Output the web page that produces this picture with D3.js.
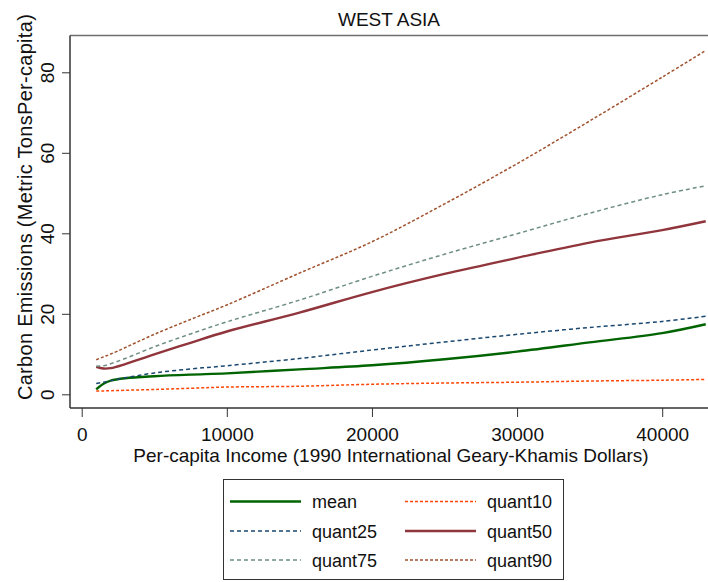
<!DOCTYPE html>
<html>
<head>
<meta charset="utf-8">
<script src="https://cdn.jsdelivr.net/npm/d3@7"></script>
<style>
  html, body { margin: 0; padding: 0; background: #fff; }
  svg { display: block; font-family: "Liberation Sans", Arial, Helvetica, sans-serif; }
</style>
</head>
<body>
<svg id="chart" width="708" height="582"></svg>
<script>
// Per-capita income grid (1990 GK dollars)
const income = [1000, 1500, 2000, 3000, 5000, 7500, 10000, 15000, 20000, 25000, 30000, 35000, 40000, 43000];

// Fitted carbon emissions (metric tons per capita) along the income grid
const meanVals    = [1.2, 2.6, 3.4, 4.0, 4.5, 4.9, 5.2, 6.2, 7.2, 8.7, 10.6, 12.9, 15.2, 17.4];
const quant10Vals = [0.8, 0.85, 0.9, 1.0, 1.2, 1.5, 1.8, 2.0, 2.5, 2.8, 3.0, 3.3, 3.5, 3.7];
const quant25Vals = [2.7, 3.0, 3.4, 4.1, 5.3, 6.3, 7.1, 8.9, 11.0, 13.0, 14.9, 16.6, 18.1, 19.4];
const quant50Vals = [6.8, 6.4, 6.5, 7.5, 9.9, 12.8, 15.6, 20.3, 25.4, 29.9, 33.9, 37.7, 40.8, 43.0];
const quant75Vals = [7.0, 7.1, 7.6, 8.9, 11.8, 15.0, 18.0, 23.4, 29.3, 34.8, 39.9, 45.0, 49.6, 51.8];
const quant90Vals = [8.6, 9.3, 10.0, 11.6, 14.9, 18.6, 22.2, 30.1, 37.9, 47.3, 57.3, 67.9, 78.8, 85.4];

const xTicks = [0, 10000, 20000, 30000, 40000];
const yTicks = [0, 20, 40, 60, 80];

const seriesNames = ["mean", "quant10", "quant25", "quant50", "quant75", "quant90"];
const seriesValues = [meanVals, quant10Vals, quant25Vals, quant50Vals, quant75Vals, quant90Vals];

const styles = {
  mean:    { color: "#006400", width: 2.4, dash: null },
  quant10: { color: "#ff4500", width: 1.5, dash: "3,2" },
  quant25: { color: "#1a476f", width: 1.5, dash: "4,3" },
  quant50: { color: "#90353b", width: 2.4, dash: null },
  quant75: { color: "#6e8e84", width: 1.5, dash: "4,3" },
  quant90: { color: "#a0522d", width: 1.5, dash: "3,2" }
};

const svg = d3.select("#chart");

const plot = { left: 70, top: 35.5, right: 708, bottom: 408 };

const x = d3.scaleLinear().domain([0, 40000]).range([81.7, 662.2]);
const y = d3.scaleLinear().domain([0, 80]).range([394.3, 72.3]);

// Plot region: top edge
svg.append("line")
  .attr("x1", plot.left).attr("x2", plot.right)
  .attr("y1", plot.top).attr("y2", plot.top)
  .attr("stroke", "#6e6e6e").attr("stroke-width", 1.5);

// Smoothed fit lines
const line = d3.line()
  .x((d, i) => x(income[i]))
  .y(d => y(d))
  .curve(d3.curveCatmullRom.alpha(0.5));

seriesNames.forEach((name, k) => {
  const s = styles[name];
  svg.append("path")
    .datum(seriesValues[k])
    .attr("d", line)
    .attr("fill", "none")
    .attr("stroke", s.color)
    .attr("stroke-width", s.width)
    .attr("stroke-dasharray", s.dash);
});

// Y axis
const yAxis = svg.append("g")
  .attr("transform", `translate(${plot.left},0)`)
  .call(d3.axisLeft(y).tickValues(yTicks).tickSize(8).tickSizeOuter(0).tickFormat(d3.format("d")));
yAxis.select(".domain").remove();
yAxis.append("line")
  .attr("x1", 0).attr("x2", 0)
  .attr("y1", plot.top).attr("y2", plot.bottom)
  .attr("stroke", "#333").attr("stroke-width", 1.5);
yAxis.selectAll(".tick line").attr("stroke", "#333").attr("stroke-width", 1);
yAxis.selectAll(".tick text")
  .attr("x", null).attr("dy", null)
  .attr("font-size", 19)
  .attr("fill", "#111")
  .attr("font-family", "Liberation Sans, Arial, sans-serif")
  .attr("text-anchor", "middle")
  .attr("transform", "translate(-16,0) rotate(-90)")
  .attr("y", 0);

// X axis
const xAxis = svg.append("g")
  .attr("transform", `translate(0,${plot.bottom})`)
  .call(d3.axisBottom(x).tickValues(xTicks).tickSize(9).tickSizeOuter(0).tickFormat(d3.format("d")));
xAxis.select(".domain").remove();
xAxis.append("line")
  .attr("x1", plot.left).attr("x2", plot.right)
  .attr("y1", 0).attr("y2", 0)
  .attr("stroke", "#333").attr("stroke-width", 1.5);
xAxis.selectAll(".tick line").attr("stroke", "#333").attr("stroke-width", 1);
xAxis.selectAll(".tick text")
  .attr("font-size", 19)
  .attr("fill", "#111")
  .attr("font-family", "Liberation Sans, Arial, sans-serif")
  .attr("dy", null)
  .attr("y", 33);

// Titles
svg.append("text")
  .attr("x", (plot.left + plot.right) / 2).attr("y", 26)
  .attr("text-anchor", "middle").attr("font-size", 19).attr("fill", "#111")
  .text("WEST ASIA");

svg.append("text")
  .attr("x", 391).attr("y", 462)
  .attr("text-anchor", "middle").attr("font-size", 19).attr("fill", "#111")
  .text("Per-capita Income (1990 International Geary-Khamis Dollars)");

svg.append("text")
  .attr("transform", "translate(32,207) rotate(-90)")
  .attr("text-anchor", "middle").attr("font-size", 20).attr("fill", "#111")
  .attr("letter-spacing", 0.3)
  .text("Carbon Emissions (Metric TonsPer-capita)");

// Legend
const legend = svg.append("g");
legend.append("rect")
  .attr("x", 223.5).attr("y", 479.5).attr("width", 340).attr("height", 100)
  .attr("fill", "#fff").attr("stroke", "#333").attr("stroke-width", 1);

const legendOrder = ["mean", "quant10", "quant25", "quant50", "quant75", "quant90"];
const colX = [230, 405];
const rowY = [501.5, 531, 560];
legendOrder.forEach((name, i) => {
  const s = styles[name];
  const cx = colX[i % 2], cy = rowY[Math.floor(i / 2)];
  legend.append("line")
    .attr("x1", cx).attr("x2", cx + 71)
    .attr("y1", cy).attr("y2", cy)
    .attr("stroke", s.color)
    .attr("stroke-width", s.width)
    .attr("stroke-dasharray", s.dash);
  legend.append("text")
    .attr("x", cx + 82).attr("y", cy + 6.5)
    .attr("font-size", 18).attr("fill", "#111")
    .text(name);
});
</script>
</body>
</html>
